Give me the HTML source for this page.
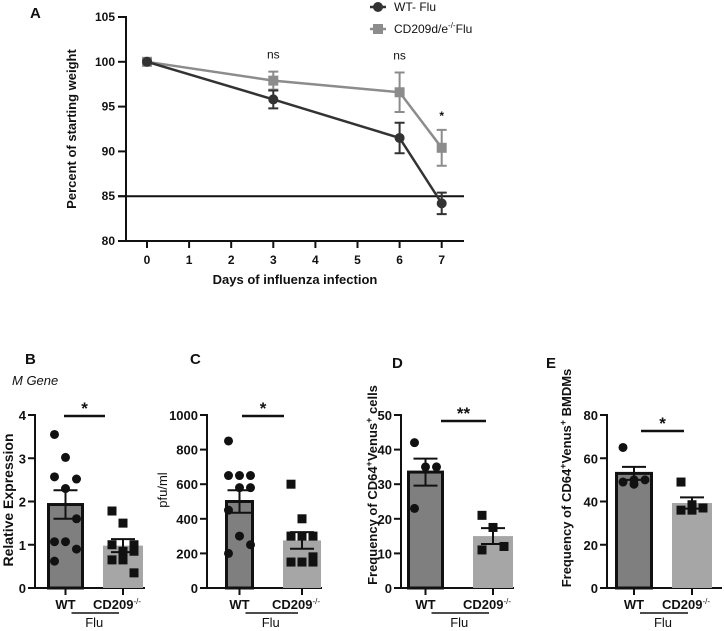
<!DOCTYPE html>
<html><head><meta charset="utf-8"><style>
html,body{margin:0;padding:0;background:#fff}
svg{display:block;font-family:"Liberation Sans",Arial,sans-serif}
</style></head><body>
<svg id="fig" width="724" height="631" viewBox="0 0 724 631"></svg>
<script>
// Panel A data
const days=[0,3,6,7];
const wtMean=[100,95.8,91.5,84.2];
const wtErr=[0,1.0,1.7,1.2];
const cdMean=[100,97.9,96.6,90.4];
const cdErr=[0,1.0,2.2,2.0];
const sigLabels=["","ns","ns","*"];
const aYTicks=[80,85,90,95,100,105];
const aXTicks=[0,1,2,3,4,5,6,7];
// Panel B
const bWT=[3.55,3.02,2.52,2.57,2.3,1.6,1.07,1.07,0.9,0.62];
const bCD=[1.78,1.5,1.0,1.0,0.85,0.85,0.65,0.65,0.35];
const bMean=[1.93,0.98];const bSem=[0.33,0.15];const bTicks=[0,1,2,3,4];
// Panel C
const cWT=[850,650,650,650,580,580,450,300,250,200];
const cCD=[600,400,300,300,300,180,150,150,150];
const cMean=[500,275];const cSem=[65,48];const cTicks=[0,200,400,600,800,1000];
// Panel D
const dWT=[42,35,35,23];const dCD=[21,17.5,12,11];
const dMean=[33.5,15];const dSem=[3.9,2.3];const dTicks=[0,10,20,30,40,50];
// Panel E
const eWT=[65,50,50,49,48];const eCD=[49,38.5,37,36,36];
const eMean=[53,39.3];const eSem=[3,2.6];const eTicks=[0,20,40,60,80];

const svg=document.getElementById('fig');const NS='http://www.w3.org/2000/svg';
function mk(tag,attrs,name,parent){const e=document.createElementNS(NS,tag);for(const k in attrs)e.setAttribute(k,attrs[k]);


(parent||svg).appendChild(e);return e;}
function txt(x,y,s,name,o){o=o||{};const t=mk('text',{x:x,y:y,'font-size':o.size||13,'font-weight':o.w||'bold','text-anchor':o.a||'middle',fill:o.fill||'#111','font-style':o.st||'normal',transform:o.tr||''},name);t.textContent=s;return t;}

// ---- Panel A
const ax0=126,ay=v=>17+(105-v)*224/25,ax=d=>147+d*42.1;
txt(30,18,'A','panel-a-label',{size:15,a:'start'});
mk('line',{x1:ax0,y1:16,x2:ax0,y2:242,stroke:'#111','stroke-width':2},'a-y-axis');
mk('line',{x1:ax0-1,y1:241,x2:464,y2:241,stroke:'#111','stroke-width':2},'a-x-axis');
aYTicks.forEach(v=>{mk('line',{x1:118,y1:ay(v),x2:ax0,y2:ay(v),stroke:'#111','stroke-width':2},'a-y-tick');txt(115,ay(v)+4,String(v),'a-y-tick-label',{a:'end',size:12});});
aXTicks.forEach(d=>{mk('line',{x1:ax(d),y1:241,x2:ax(d),y2:248,stroke:'#111','stroke-width':2},'a-x-tick');txt(ax(d),264,String(d),'a-x-tick-label',{size:12});});
txt(295,284,'Days of influenza infection','a-x-axis-title',{size:13});
txt(0,0,'Percent of starting weight','a-y-axis-title',{size:13,tr:'translate(76,129) rotate(-90)'});
mk('line',{x1:118,y1:ay(85),x2:464,y2:ay(85),stroke:'#111','stroke-width':2},'threshold-line');
function series(m,e,col,shape,nm){
 mk('polyline',{points:days.map((d,i)=>ax(d)+','+ay(m[i])).join(' '),fill:'none',stroke:col,'stroke-width':2.5},nm+'-line');
 days.forEach((d,i)=>{if(e[i]>0){const x=ax(d);mk('path',{d:`M${x},${ay(m[i]+e[i])}V${ay(m[i]-e[i])}M${x-5},${ay(m[i]+e[i])}H${x+5}M${x-5},${ay(m[i]-e[i])}H${x+5}`,stroke:col,'stroke-width':2,fill:'none'},nm+'-error-bar');}
 if(shape==='c')mk('circle',{cx:ax(d),cy:ay(m[i]),r:5,fill:col},nm+'-point');else mk('rect',{x:ax(d)-5,y:ay(m[i])-5,width:10,height:10,fill:col},nm+'-point');});
}
series(cdMean,cdErr,'#8c8c8c','s','cd209');
series(wtMean,wtErr,'#333','c','wt');
days.forEach((d,i)=>{if(sigLabels[i]){const top=Math.max(wtMean[i]+wtErr[i],cdMean[i]+cdErr[i]);txt(ax(d),ay(top)-(sigLabels[i]==='*'?10:13),sigLabels[i],'a-significance',{w:sigLabels[i]==='*'?'bold':'normal',size:12});}});
mk('line',{x1:370,y1:7,x2:386,y2:7,stroke:'#333','stroke-width':2.5},'legend-wt-line');
mk('circle',{cx:378,cy:7,r:5,fill:'#333'},'legend-wt-marker');
txt(394,11,'WT- Flu','legend-wt-label',{w:'normal',a:'start',size:12});
mk('line',{x1:370,y1:29,x2:386,y2:29,stroke:'#8c8c8c','stroke-width':2.5},'legend-cd209-line');
mk('rect',{x:373,y:24,width:10,height:10,fill:'#8c8c8c'},'legend-cd209-marker');
const lt=txt(394,33,'CD209d/e','legend-cd209-label',{w:'normal',a:'start',size:12});
const ts=document.createElementNS(NS,'tspan');ts.setAttribute('dy','-5');ts.setAttribute('font-size','8');ts.textContent='-/-';lt.appendChild(ts);
const ts2=document.createElementNS(NS,'tspan');ts2.setAttribute('dy','5');ts2.textContent='Flu';lt.appendChild(ts2);

// ---- Bar panels
function panel(o){
 const y=v=>588-v*173/o.max;const axX=o.ax;
 mk('line',{x1:axX,y1:414,x2:axX,y2:589,stroke:'#111','stroke-width':2},o.id+'-y-axis');
 mk('line',{x1:axX-1,y1:588,x2:o.end,y2:588,stroke:'#111','stroke-width':2},o.id+'-x-axis');
 o.ticks.forEach(v=>{mk('line',{x1:axX-7,y1:y(v),x2:axX,y2:y(v),stroke:'#111','stroke-width':2},o.id+'-y-tick');txt(axX-9,y(v)+5,String(v),o.id+'-y-tick-label',{a:'end',size:13});});
 const bars=[o.b1,o.b2];
 bars.forEach((b,k)=>{const cx=(b[0]+b[1])/2;mk('line',{x1:cx,y1:588,x2:cx,y2:595,stroke:'#111','stroke-width':2},o.id+'-x-tick');
  if(k===0)mk('rect',{x:b[0]+1.5,y:y(o.mean[0]),width:b[1]-b[0]-3,height:588-y(o.mean[0]),fill:'#7f7f7f',stroke:'#111','stroke-width':3},o.id+'-bar-wt');
  else mk('rect',{x:b[0],y:y(o.mean[1]),width:b[1]-b[0],height:588-y(o.mean[1]),fill:'#a6a6a6'},o.id+'-bar-cd209');
 });
 [o.wt,o.cd].forEach((arr,k)=>{const cx=(bars[k][0]+bars[k][1])/2;
  arr.forEach((v,i)=>{const dx=((i%3)-1)*11;
   if(k===0)mk('circle',{cx:cx+dx,cy:y(v),r:4.5,fill:'#111'},o.id+'-point-wt');
   else mk('rect',{x:cx+dx-4.5,y:y(v)-4.5,width:9,height:9,fill:'#111'},o.id+'-point-cd209');});
  const m=o.mean[k],s=o.sem[k];
  mk('path',{d:`M${cx},${y(m+s)}V${y(m-s)}M${cx-12},${y(m+s)}H${cx+12}M${cx-12},${y(m-s)}H${cx+12}`,stroke:'#111','stroke-width':2,fill:'none'},o.id+'-error-bar');
 });
 const c1=(o.b1[0]+o.b1[1])/2,c2=(o.b2[0]+o.b2[1])/2;
 mk('line',{x1:o.sig[0],y1:o.sigY,x2:o.sig[1],y2:o.sigY,stroke:'#111','stroke-width':2.5},o.id+'-significance-bar');
 txt((o.sig[0]+o.sig[1])/2,o.sigY-2,o.star,o.id+'-significance-star',{size:17});
 txt(c1,609,'WT',o.id+'-x-label-wt',{size:13});
 const t=txt(c2-6,609,'CD209',o.id+'-x-label-cd209',{size:13});
 const sp=document.createElementNS(NS,'tspan');sp.setAttribute('dy','-5');sp.setAttribute('font-size','8');sp.setAttribute('font-weight','normal');sp.textContent='-/-';t.appendChild(sp);
 mk('line',{x1:c1+6,y1:613,x2:c2-4,y2:613,stroke:'#111','stroke-width':1.5},o.id+'-group-line');
 txt((c1+c2)/2,627,'Flu',o.id+'-group-label',{w:'normal',size:13});
 txt(o.lx,o.ly,o.letter,o.id+'-panel-label',{size:15,a:'start'});
}
panel({id:'b',ax:35,end:145,max:4,ticks:bTicks,b1:[47,84],b2:[103,143],wt:bWT,cd:bCD,mean:bMean,sem:bSem,sig:[64,105],sigY:416,star:'*',letter:'B',lx:25,ly:364});
panel({id:'c',ax:207,end:322,max:1000,ticks:cTicks,b1:[225,254],b2:[283,321],wt:cWT,cd:cCD,mean:cMean,sem:cSem,sig:[242,284],sigY:416,star:'*',letter:'C',lx:190,ly:364});
panel({id:'d',ax:401,end:514,max:50,ticks:dTicks,b1:[407,444],b2:[473,513],wt:dWT,cd:dCD,mean:dMean,sem:dSem,sig:[441,486],sigY:421,star:'**',letter:'D',lx:392,ly:368});
panel({id:'e',ax:607,end:722,max:80,ticks:eTicks,b1:[615,653],b2:[672,712],wt:eWT,cd:eCD,mean:eMean,sem:eSem,sig:[641,684],sigY:431,star:'*',letter:'E',lx:546,ly:368});
txt(12,385,'M Gene','b-gene-label',{w:'normal',st:'italic',a:'start',size:13});
txt(0,0,'Relative Expression','b-y-axis-title',{size:14,tr:'translate(13,500) rotate(-90)'});
txt(0,0,'pfu/ml','c-y-axis-title',{w:'normal',size:13,tr:'translate(167,490) rotate(-90)'});
function sup(t,parts){}
const dy=txt(0,0,'','d-y-axis-title',{size:13,tr:'translate(377,485) rotate(-90)'});
dy.innerHTML='Frequency of CD64<tspan dy="-5" font-size="9">+</tspan><tspan dy="5">Venus</tspan><tspan dy="-5" font-size="9">+</tspan><tspan dy="5"> cells</tspan>';
const ey=txt(0,0,'','e-y-axis-title',{size:13,tr:'translate(571,478) rotate(-90)'});
ey.innerHTML='Frequency of CD64<tspan dy="-5" font-size="9">+</tspan><tspan dy="5">Venus</tspan><tspan dy="-5" font-size="9">+</tspan><tspan dy="5"> BMDMs</tspan>';
</script>
</body></html>
